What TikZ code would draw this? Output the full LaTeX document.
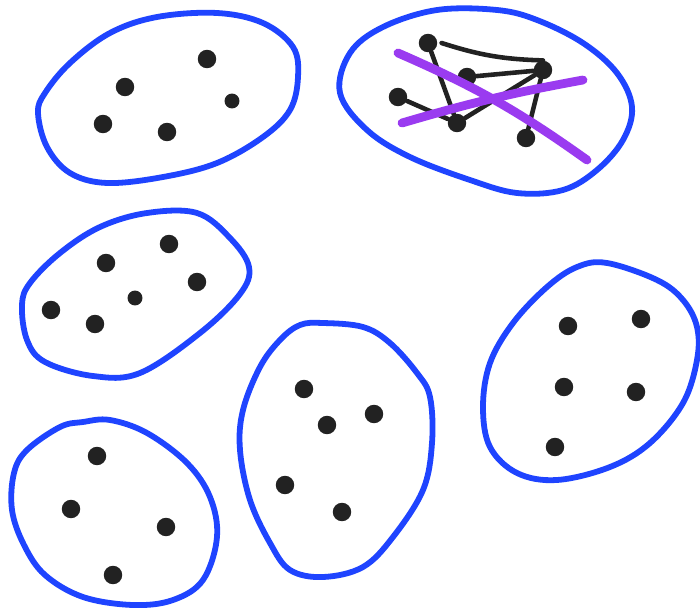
\documentclass[tikz,border=0pt]{standalone}
\usepackage{xcolor}
\definecolor{penblue}{HTML}{1F44FF}
\definecolor{penpurple}{HTML}{9A3BF0}
\definecolor{penblack}{HTML}{222222}
\usetikzlibrary{calc}

\begin{document}
\begin{tikzpicture}[x=0.02cm, y=-0.02cm,
      blob/.style={draw=penblue, line width=3.3pt, line join=round},
      dot/.style={circle, fill=penblack, inner sep=0pt, minimum size=10.5pt},
      smalldot/.style={dot, minimum size=8.5pt},
      edge/.style={draw=penblack, line width=2.6pt, line cap=round},
      strike/.style={draw=penpurple, line width=5pt, line cap=round}
    ]
    \useasboundingbox[fill=white] (0,0) rectangle (700,608);
    % the six groups
    \draw[blob] plot[smooth cycle, tension=0.6] coordinates {(217,13) (263,23) (293,47) (298,77) (290,110) (263,137) (217,163) (163,177) (107,183) (70,173) (47,147) (38,113) (45,93) (70,63) (110,33) (157,17)};
    \draw[blob] plot[smooth cycle, tension=0.6] coordinates {(497,10) (537,20) (583,43) (617,73) (632,107) (623,140) (597,170) (563,190) (517,193) (470,180) (410,157) (367,130) (340,93) (350,53) (383,27) (437,10)};
    \draw[blob] plot[smooth cycle, tension=0.6] coordinates {(197,213) (230,238) (249,267) (240,294) (200,333) (140,373) (93,376) (45,362) (27,340) (22,305) (30,283) (60,253) (100,227) (147,213)};
    \draw[blob] plot[smooth cycle, tension=0.6] coordinates {(110,420) (147,433) (187,463) (210,497) (217,537) (203,580) (173,600) (133,605) (83,597) (45,575) (24,545) (12,510) (14,473) (27,450) (60,427) (83,422)};
    \draw[blob] plot[smooth cycle, tension=0.6] coordinates {(323,323) (363,327) (390,343) (417,373) (430,397) (432,443) (423,490) (393,537) (363,567) (323,577) (290,570) (270,543) (250,500) (240,450) (243,410) (260,367) (280,340) (300,325)};
    \draw[blob] plot[smooth cycle, tension=0.6] coordinates {(607,263) (657,280) (683,300) (697,327) (697,360) (683,403) (650,443) (610,467) (557,480) (517,473) (490,447) (483,407) (490,363) (513,323) (547,287) (577,267)};
    % top left group
    \node[dot] (tl1) at (207,59) {};
    \node[dot] (tl2) at (125,87) {};
    \node[smalldot] (tl3) at (232,101) {};
    \node[dot] (tl4) at (103,124) {};
    \node[dot] (tl5) at (167,132) {};
    % middle left group
    \node[dot] (ml1) at (169,244) {};
    \node[dot] (ml2) at (106,263) {};
    \node[dot] (ml3) at (197,282) {};
    \node[smalldot] (ml4) at (135,298) {};
    \node[dot] (ml5) at (51,310) {};
    \node[dot] (ml6) at (95,324) {};
    % bottom left group
    \node[dot] (bl1) at (97,456) {};
    \node[dot] (bl2) at (71,509) {};
    \node[dot] (bl3) at (166,527) {};
    \node[dot] (bl4) at (113,575) {};
    % bottom middle group
    \node[dot] (bm1) at (304,389) {};
    \node[dot] (bm2) at (374,414) {};
    \node[dot] (bm3) at (327,425) {};
    \node[dot] (bm4) at (285,485) {};
    \node[dot] (bm5) at (342,512) {};
    % right group
    \node[dot] (r1) at (568,326) {};
    \node[dot] (r2) at (641,319) {};
    \node[dot] (r3) at (564,387) {};
    \node[dot] (r4) at (636,392) {};
    \node[dot] (r5) at (555,447) {};
    % top right group, connected and crossed out
    \node[dot] (tra) at (428,43) {};
    \node[dot] (trb) at (467,77) {};
    \node[dot] (trc) at (543,70) {};
    \node[dot] (trd) at (398,97) {};
    \node[dot] (tre) at (457,123) {};
    \node[dot] (trf) at (526,138) {};
    \draw[edge] (tra.east) ++(4,0) to[bend right=8] (trc.north);
    \foreach \a/\b in {tra/tre,trb/trc,trd/tre,tre/trc,trc/trf} { \draw[edge] (\a) -- (\b); }
    \coordinate (s1) at (398,53);
    \coordinate (s2) at (587,160);
    \coordinate (s3) at (402,123);
    \coordinate (s4) at (583,80);
    \draw[strike] (s1) to[bend left=6] (s2);
    \draw[strike] (s3) to[bend left=3] (s4);
  \end{tikzpicture}
\end{document}
